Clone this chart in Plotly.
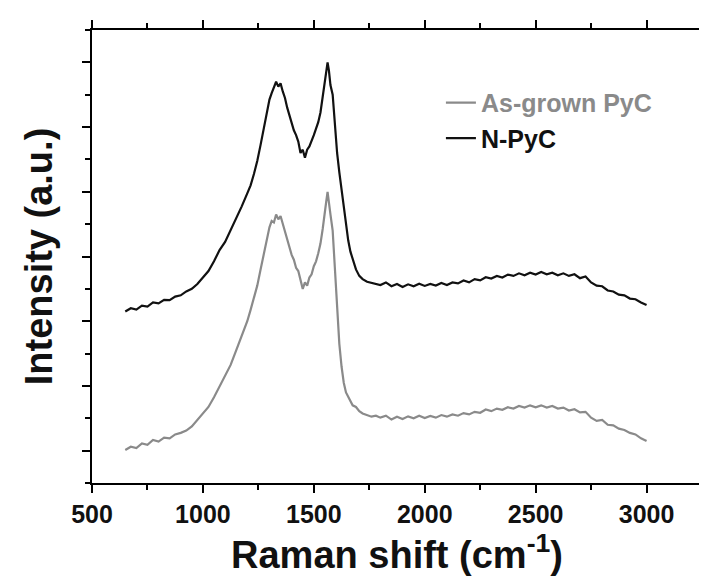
import plotly.graph_objects as go

# Raman shift (cm^-1) sampling
raman_shift = [
    650, 675, 700, 725, 750, 775, 800, 825, 850, 875, 900, 925, 950, 975, 1000, 1025, 1050, 1075, 1100, 1125, 1150, 1175, 1200,
    1215, 1230, 1245, 1260, 1275, 1290,
    1300, 1310, 1320, 1330, 1340, 1350, 1360, 1370, 1380, 1390, 1400, 1410, 1420, 1430, 1440, 1450, 1460, 1470, 1480, 1490,
    1500, 1510, 1520, 1530, 1540, 1550,
    1556, 1562, 1568, 1575,
    1585, 1595, 1605, 1615, 1625, 1635, 1645, 1655, 1665, 1675,
    1690, 1705, 1720, 1740, 1760, 1780,
    1800, 1825, 1850, 1875, 1900, 1925, 1950, 1975, 2000, 2025, 2050, 2075, 2100, 2125, 2150, 2175, 2200, 2225, 2250, 2275,
    2300, 2325, 2350, 2375, 2400, 2425, 2450, 2475, 2500, 2525, 2550, 2575, 2600, 2625, 2650, 2675, 2700, 2725, 2750, 2775,
    2800, 2825, 2850, 2875, 2900, 2925, 2950, 2975, 3000,
]

# As-grown PyC intensity (a.u., offset trace)
as_grown = [
    1.02, 1.12, 1.08, 1.22, 1.18, 1.33, 1.28, 1.40, 1.38, 1.50, 1.55, 1.62, 1.75, 1.95, 2.15, 2.35, 2.65, 3.00, 3.30, 3.65, 4.10, 4.55, 5.00,
    5.35, 5.75, 6.10, 6.60, 7.10, 7.55,
    7.90, 8.10, 8.05, 8.30, 8.15, 8.25, 8.00, 7.75, 7.55, 7.30, 7.05, 6.90, 6.65, 6.55, 6.30, 6.00, 6.20, 6.10, 6.35, 6.45,
    6.70, 6.85, 7.10, 7.40, 7.85, 8.30,
    8.70, 9.00, 8.60, 8.30,
    7.80, 6.60, 5.30, 4.30, 3.60, 3.10, 2.80, 2.65, 2.50, 2.40,
    2.35, 2.22, 2.15, 2.10, 2.05, 2.08,
    2.02, 2.08, 1.96, 2.05, 1.98, 2.06, 2.00, 2.08, 2.01, 2.07, 2.02, 2.10, 2.05, 2.12, 2.08, 2.16, 2.12, 2.20, 2.17, 2.27,
    2.22, 2.30, 2.26, 2.34, 2.30, 2.38, 2.33, 2.40, 2.34, 2.40, 2.33, 2.38, 2.30, 2.33, 2.24, 2.28, 2.18, 2.20, 2.02, 1.92,
    1.95, 1.80, 1.78, 1.68, 1.64, 1.55, 1.50, 1.38, 1.30,
]

# N-PyC intensity (a.u., offset trace)
n_pyc = [
    5.30, 5.40, 5.36, 5.48, 5.45, 5.58, 5.55, 5.66, 5.65, 5.76, 5.80, 5.92, 6.00, 6.15, 6.35, 6.55, 6.85, 7.20, 7.45, 7.80, 8.20, 8.55, 8.95,
    9.20, 9.55, 9.95, 10.45, 10.95, 11.50,
    11.85, 12.05, 12.20, 12.40, 12.25, 12.35, 12.10, 11.90, 11.60, 11.35, 11.10, 10.90, 10.75, 10.55, 10.20, 10.30, 10.05, 10.30, 10.40, 10.55,
    10.75, 10.95, 11.15, 11.45, 11.90, 12.40,
    12.70, 13.00, 12.75, 12.30,
    12.00, 11.00, 10.20, 9.60, 9.05, 8.45, 7.95, 7.50, 7.15, 6.90,
    6.60, 6.40, 6.30, 6.22, 6.18, 6.15,
    6.12, 6.20, 6.08, 6.15, 6.06, 6.14, 6.08, 6.16, 6.09, 6.15, 6.10, 6.18, 6.12, 6.20, 6.17, 6.26, 6.20, 6.30, 6.26, 6.36,
    6.32, 6.40, 6.35, 6.44, 6.40, 6.48, 6.42, 6.50, 6.44, 6.52, 6.45, 6.50, 6.42, 6.48, 6.40, 6.45, 6.33, 6.38, 6.20, 6.10,
    6.08, 5.95, 5.92, 5.82, 5.80, 5.70, 5.68, 5.58, 5.50,
]

x_tick_values = [500, 1000, 1500, 2000, 2500, 3000]
x_tick_labels = ["500", "1000", "1500", "2000", "2500", "3000"]

series_names = ["As-grown PyC", "N-PyC"]
series_colors = ["#8a8a8a", "#111111"]

fig = go.Figure()
fig.add_trace(go.Scatter(
    x=raman_shift, y=as_grown, mode="lines",
    name="<span style='color:#8a8a8a'>" + series_names[0] + "</span>",
    line=dict(color=series_colors[0], width=2.2),
))
fig.add_trace(go.Scatter(
    x=raman_shift, y=n_pyc, mode="lines",
    name="<span style='color:#111111'>" + series_names[1] + "</span>",
    line=dict(color=series_colors[1], width=2.2),
))

axis_common = dict(
    showline=True, linecolor="black", linewidth=2, mirror="ticks",
    ticks="outside", tickcolor="black", tickwidth=2, ticklen=8,
    showgrid=False, zeroline=False,
)

fig.update_layout(
    width=707, height=581,
    margin=dict(l=84, r=3, t=22, b=106),
    paper_bgcolor="white", plot_bgcolor="white",
    font=dict(family="Liberation Sans, Arial, sans-serif", color="#111111"),
    showlegend=True,
    legend=dict(
        x=0.572, y=0.89, xanchor="left", yanchor="top",
        bgcolor="rgba(0,0,0,0)", borderwidth=0,
        font=dict(size=25, weight="bold"),
        tracegroupgap=0,
    ),
    xaxis=dict(
        axis_common,
        range=[500, 3250],
        tickvals=x_tick_values, ticktext=x_tick_labels,
        tickfont=dict(size=25, weight="bold", color="#111111"),
        minor=dict(dtick=250, tick0=500, ticks="outside", ticklen=5, tickwidth=2, tickcolor="black"),
        title=dict(text="Raman shift (cm<sup>-1</sup>)", font=dict(size=38, weight="bold", color="#111111"), standoff=14),
    ),
    yaxis=dict(
        axis_common,
        range=[0, 14],
        tick0=1, dtick=2, showticklabels=False,
        minor=dict(dtick=1, tick0=0, ticks="outside", ticklen=5, tickwidth=2, tickcolor="black"),
        title=dict(text="Intensity (a.u.)", font=dict(size=38, weight="bold", color="#111111"), standoff=18),
    ),
)

fig.write_html("out.html")
